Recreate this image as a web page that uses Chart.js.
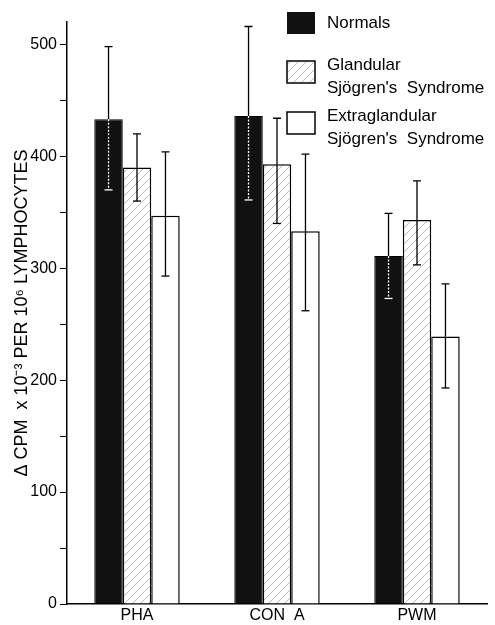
<!DOCTYPE html>
<html>
<head>
<meta charset="utf-8">
<script src="https://cdn.jsdelivr.net/npm/chart.js@4.4.1/dist/chart.umd.min.js"></script>
<style>
  html, body { margin: 0; padding: 0; background: #fff; }
  #wrap { width: 495px; height: 625px; }
</style>
</head>
<body>
<div id="wrap"><canvas id="bieuDo"></canvas></div>
<script>
// du lieu doc tu hinh
const categories = ["PHA", "CON  A", "PWM"];
const seriesNames = ["Normals", "Glandular\nSjögren's  Syndrome", "Extraglandular\nSjögren's  Syndrome"];
const normals = [433, 436, 311];
const normalsHigh = [498, 516, 349];
const normalsLow = [370, 361, 273];
const glandular = [390, 393, 343];
const glandularHigh = [420, 434, 378];
const glandularLow = [360, 340, 303];
const extraglandular = [347, 333, 239];
const extraHigh = [404, 402, 286];
const extraLow = [293, 262, 193];
const yTicks = [0, 100, 200, 300, 400, 500];

const FONT = "'Liberation Sans', Arial, sans-serif";

// pattern gach cheo cho cot Glandular
function taoHatch() {
  const c = document.createElement("canvas");
  c.width = 8;
  c.height = 8;
  const g = c.getContext("2d");
  g.fillStyle = "#fff";
  g.fillRect(0, 0, 8, 8);
  g.strokeStyle = "#b5b5b5";
  g.lineWidth = 0.9;
  g.beginPath();
  g.moveTo(0, 8);
  g.lineTo(8, 0);
  g.moveTo(-2, 2);
  g.lineTo(2, -2);
  g.moveTo(6, 10);
  g.lineTo(10, 6);
  g.stroke();
  return g.createPattern(c, "repeat");
}
const hatch = taoHatch();

const fills = ["#111", hatch, "#fff"];
const highs = [normalsHigh, glandularHigh, extraHigh];
const lows = [normalsLow, glandularLow, extraLow];

// ve thanh sai so
const errorBars = {
  id: "errorBars",
  afterDatasetsDraw(chart) {
    const ctx = chart.ctx;
    const y = chart.scales.y;
    chart.data.datasets.forEach((ds, i) => {
      const meta = chart.getDatasetMeta(i);
      meta.data.forEach((bar, j) => {
        const x = bar.x;
        const yv = y.getPixelForValue(ds.data[j]);
        const yh = y.getPixelForValue(highs[i][j]);
        const yl = y.getPixelForValue(lows[i][j]);
        ctx.save();
        ctx.lineWidth = 1.3;
        ctx.strokeStyle = "#000";
        ctx.beginPath();
        ctx.moveTo(x, yv);
        ctx.lineTo(x, yh);
        ctx.moveTo(x - 4, yh);
        ctx.lineTo(x + 4, yh);
        ctx.stroke();
        if (i === 0) {
          ctx.strokeStyle = "#fff";
          ctx.setLineDash([2, 1.5]);
        }
        ctx.beginPath();
        ctx.moveTo(x, yv);
        ctx.lineTo(x, yl);
        ctx.stroke();
        ctx.setLineDash([]);
        ctx.beginPath();
        ctx.moveTo(x - 4, yl);
        ctx.lineTo(x + 4, yl);
        ctx.stroke();
        ctx.restore();
      });
    });
  },
};

// chu giai tu ve
const legendBox = {
  id: "legendBox",
  afterDraw(chart) {
    const ctx = chart.ctx;
    const boxX = 287, boxW = 28, boxH = 22;
    const boxY = [12, 61, 112];
    ctx.save();
    ctx.font = "17px " + FONT;
    ctx.fillStyle = "#000";
    ctx.textBaseline = "middle";
    seriesNames.forEach((name, i) => {
      ctx.fillStyle = fills[i];
      ctx.fillRect(boxX, boxY[i], boxW, boxH);
      if (i > 0) {
        ctx.strokeStyle = "#000";
        ctx.lineWidth = 1.5;
        ctx.strokeRect(boxX, boxY[i], boxW, boxH);
      }
      ctx.fillStyle = "#000";
      const lines = name.split("\n");
      if (lines.length === 1) {
        ctx.fillText(lines[0], 327, boxY[i] + 11);
      } else {
        ctx.fillText(lines[0], 327, boxY[i] + 4);
        ctx.fillText(lines[1], 327, boxY[i] + 27);
      }
    });
    ctx.restore();
  },
};

new Chart(document.getElementById("bieuDo"), {
  type: "bar",
  data: {
    labels: categories,
    datasets: [
      { label: "Normals", data: normals, backgroundColor: fills[0], borderColor: "#000", borderWidth: 1 },
      { label: "Glandular", data: glandular, backgroundColor: fills[1], borderColor: "#000", borderWidth: 1.5 },
      { label: "Extraglandular", data: extraglandular, backgroundColor: fills[2], borderColor: "#000", borderWidth: 1.5 },
    ],
  },
  options: {
    responsive: true,
    maintainAspectRatio: false,
    animation: false,
    layout: { padding: { top: 22, right: 8, left: 0, bottom: 0 } },
    datasets: { bar: { categoryPercentage: 0.61, barPercentage: 1.0 } },
    plugins: {
      legend: { display: false },
      tooltip: { enabled: false },
    },
    scales: {
      x: {
        grid: { display: false, drawTicks: false },
        border: { display: true, color: "#000", width: 1.5 },
        ticks: { color: "#000", font: { family: FONT, size: 16 }, padding: 2, maxRotation: 0 },
        afterFit(scale) { scale.height = 21; },
      },
      y: {
        min: 0,
        max: 520,
        border: { display: true, color: "#000", width: 1.5 },
        grid: { drawOnChartArea: false, drawTicks: true, tickLength: 7, color: "#000", lineWidth: 1 },
        afterBuildTicks(scale) {
          const t = [];
          for (let v = 0; v <= 500; v += 50) t.push({ value: v });
          scale.ticks = t;
        },
        ticks: {
          color: "#000",
          padding: 3,
          font: { family: FONT, size: 16 },
          callback: (v) => (yTicks.includes(v) ? String(v) : ""),
        },
        title: {
          display: true,
          text: "Δ CPM  x 10⁻³ PER 10⁶ LYMPHOCYTES",
          color: "#000",
          font: { family: FONT, size: 18 },
          padding: { top: 11, bottom: 0 },
        },
        afterFit(scale) { scale.width = 67; },
      },
    },
  },
  plugins: [errorBars, legendBox],
});
</script>
</body>
</html>
